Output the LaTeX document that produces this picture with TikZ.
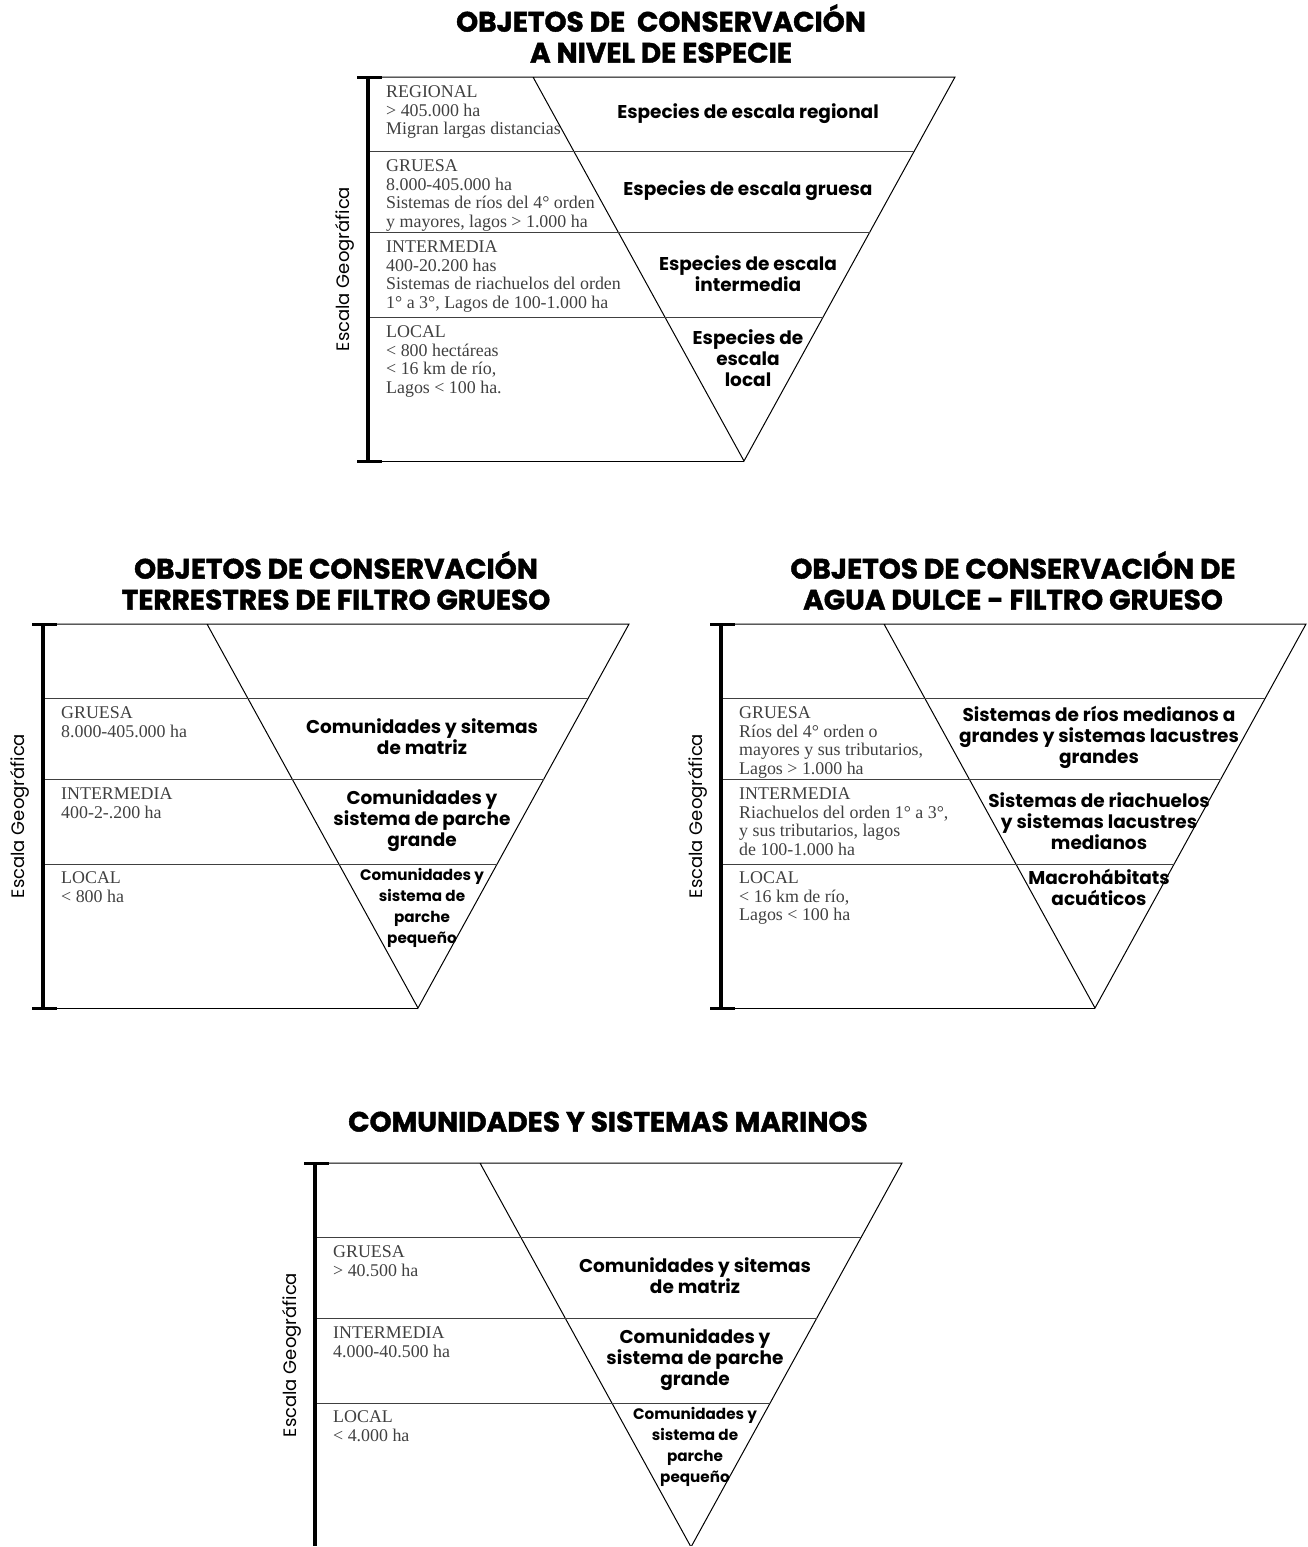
\documentclass[tikz,border=0pt]{standalone}
\usepackage{fontspec}
\setmainfont{Liberation Serif}
\newfontfamily\sansfut{Poppins}
\newfontfamily\sansnegra{Poppins}[BoldFeatures={FakeBold=1.5}]
\usetikzlibrary{calc}

\begin{document}
\begin{tikzpicture}[x=1pt,y=-1pt,
	marco/.style={line width=1pt},
	franja/.style={line width=1pt,black!75},
	barra/.style={line width=3.5pt},
	tope/.style={line width=3pt},
	titulo/.style={anchor=south,inner sep=0pt,align=center,font=\sansnegra\bfseries\fontsize{28}{31}\selectfont},
	etiqueta/.style={inner sep=0pt,align=center,font=\sansfut\bfseries\fontsize{18.5}{21}\selectfont},
	etiquetachica/.style={etiqueta,anchor=north,font=\sansfut\bfseries\fontsize{15.2}{21}\selectfont},
	rango/.style={anchor=north west,inner sep=0pt,align=left,text=black!75,font=\fontsize{17.9}{18.5}\selectfont},
	eje/.style={rotate=90,inner sep=0pt,font=\sansfut\fontsize{18}{20}\selectfont}]
		\useasboundingbox (0,0) rectangle (1307,1547);
		\clip (0,0) rectangle (1307,1545);
		% triangles, bands and scale bar
		\foreach \cx/\ty/\bx in {744/77/368,418/624/43,1095/624/721,691/1163/315}{
		\begin{scope}[shift={(\cx,\ty)}]
		\coordinate (izq) at (-211,0);
		\coordinate (der) at (211,0);
		\coordinate (vert) at (0,384);
		\coordinate (esq) at (\bx-\cx,0);
		\coordinate (pie) at (\bx-\cx,384);
		\draw[marco] (esq) -- (der) -- (vert) -- (izq);
		\draw[marco] (pie) -- (vert);
		\foreach \d in {74,155,240}
			\draw[franja] (\bx-\cx,\d) -- ({211*(1-\d/384)},\d);
		\draw[barra] (esq) -- (pie);
		\draw[tope] ([xshift=-11pt]esq) -- ([xshift=14pt]esq);
		\draw[tope] ([xshift=-11pt]pie) -- ([xshift=14pt]pie);
		\node[eje] (eje) at (\bx-\cx-23,192) {Escala Geográfica};
		\end{scope}
		}
		% especie
		\node[titulo] (tit1) at (661,63) {OBJETOS DE~~CONSERVACIÓN\\A NIVEL DE ESPECIE};
		\node[rango] (reg1) at (386,85.5) {REGIONAL\\> 405.000 ha\\Migran largas distancias};
		\node[rango] (gru1) at (386,159.5) {GRUESA\\8.000-405.000 ha\\Sistemas de ríos del 4° orden\\y mayores, lagos > 1.000 ha};
		\node[rango] (int1) at (386,240.5) {INTERMEDIA\\400-20.200 has\\Sistemas de riachuelos del orden\\1° a 3°, Lagos de 100-1.000 ha};
		\node[rango] (loc1) at (386,325.5) {LOCAL\\< 800 hectáreas\\< 16 km de río,\\Lagos < 100 ha.};
		\node[etiqueta] (esp1) at (748,114) {Especies de escala regional};
		\node[etiqueta] (esp2) at (748,191) {Especies de escala gruesa};
		\node[etiqueta] (esp3) at (748,274) {Especies de escala\\intermedia};
		\node[etiqueta,anchor=north] (esp4) at (748,329.5) {Especies de\\escala\\local};
		% terrestres
		\node[titulo] (tit2) at (336,610) {OBJETOS DE CONSERVACIÓN\\TERRESTRES DE FILTRO GRUESO};
		\node[rango] (gru2) at (61,706.5) {GRUESA\\8.000-405.000 ha};
		\node[rango] (int2) at (61,787.5) {INTERMEDIA\\400-2-.200 ha};
		\node[rango] (loc2) at (61,871.5) {LOCAL\\< 800 ha};
		\node[etiqueta] (ter1) at (422,737) {Comunidades y sitemas\\de matriz};
		\node[etiqueta] (ter2) at (422,821) {Comunidades y\\sistema de parche\\grande};
		\node[etiquetachica] (ter3) at (422,868) {Comunidades y\\sistema de\\parche\\pequeño};
		% agua dulce
		\node[titulo] (tit3) at (1013,610) {OBJETOS DE CONSERVACIÓN DE\\AGUA DULCE - FILTRO GRUESO};
		\node[rango] (gru3) at (739,706.5) {GRUESA\\Ríos del 4° orden o\\mayores y sus tributarios,\\Lagos > 1.000 ha};
		\node[rango] (int3) at (739,787.5) {INTERMEDIA\\Riachuelos del orden 1° a 3°,\\y sus tributarios, lagos\\de 100-1.000 ha};
		\node[rango] (loc3) at (739,871.5) {LOCAL\\< 16 km de río,\\Lagos < 100 ha};
		\node[etiqueta] (dul1) at (1099,737) {Sistemas de ríos medianos a\\grandes y sistemas lacustres\\grandes};
		\node[etiqueta] (dul2) at (1099,821) {Sistemas de riachuelos\\y sistemas lacustres\\medianos};
		\node[etiqueta,anchor=north] (dul3) at (1099,868.5) {Macrohábitats\\acuáticos};
		% marinos
		\node[titulo] (tit4) at (608,1132) {COMUNIDADES Y SISTEMAS MARINOS};
		\node[rango] (gru4) at (333,1245.5) {GRUESA\\> 40.500 ha};
		\node[rango] (int4) at (333,1326.5) {INTERMEDIA\\4.000-40.500 ha};
		\node[rango] (loc4) at (333,1410.5) {LOCAL\\< 4.000 ha};
		\node[etiqueta] (mar1) at (695,1276) {Comunidades y sitemas\\de matriz};
		\node[etiqueta] (mar2) at (695,1360) {Comunidades y\\sistema de parche\\grande};
		\node[etiquetachica] (mar3) at (695,1407) {Comunidades y\\sistema de\\parche\\pequeño};
\end{tikzpicture}
\end{document}
